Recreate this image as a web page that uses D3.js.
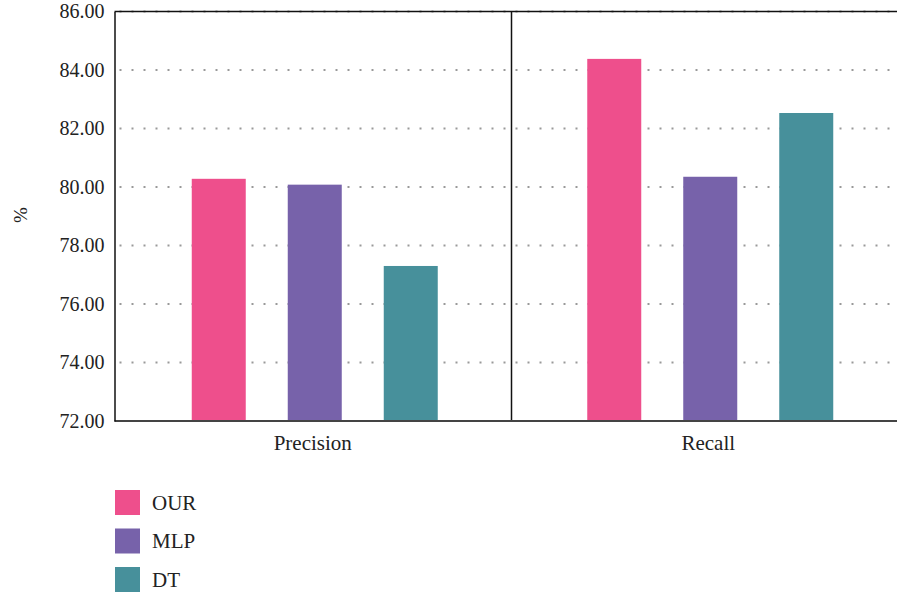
<!DOCTYPE html>
<html>
<head>
<meta charset="utf-8">
<script src="https://cdn.jsdelivr.net/npm/d3@7"></script>
<style>
  body { margin: 0; background: #fff; }
</style>
</head>
<body>
<div id="chart"></div>
<script>
const categories = ['Precision', 'Recall'];
const series = ['OUR', 'MLP', 'DT'];
const values = {
  OUR: [80.28, 84.38],
  MLP: [80.08, 80.35],
  DT:  [77.30, 82.53]
};
const yTicks = [72, 74, 76, 78, 80, 82, 84, 86];
const colors = ['#ee4f8c', '#7762aa', '#47909b'];

const FONT = '"Liberation Serif"';
const width = 897, height = 593;
const margin = {top: 11.5, left: 114.5};

const svg = d3.select('#chart')
  .append('svg')
    .attr('width', width)
    .attr('height', height);

// scales
const y = d3.scaleLinear()
  .domain([72, 86])
  .range([421, margin.top]);

const x0 = d3.scaleBand()
  .domain(categories)
  .range([117, 908]);

const x1 = d3.scaleBand()
  .domain(series)
  .range([-144, 144])
  .paddingInner(0.4375)
  .paddingOuter(0.21875);

const color = d3.scaleOrdinal().domain(series).range(colors);

// dotted grid
svg.append('g')
  .selectAll('line')
  .data(yTicks.filter(d => d > 72))
  .join('line')
    .attr('x1', margin.left + 1)
    .attr('x2', width)
    .attr('y1', d => y(d))
    .attr('y2', d => y(d))
    .attr('stroke', '#999')
    .attr('stroke-width', 2)
    .attr('stroke-dasharray', '2,10')
    .attr('stroke-dashoffset', -4);

// bars
const rows = categories.flatMap((c, i) => series.map(s => ({cat: c, key: s, value: values[s][i]})));
svg.append('g')
  .selectAll('rect')
  .data(rows)
  .join('rect')
    .attr('x', d => x0(d.cat) + x0.bandwidth() / 2 + x1(d.key))
    .attr('y', d => y(d.value))
    .attr('width', x1.bandwidth())
    .attr('height', d => y(72) - y(d.value))
    .attr('fill', d => color(d.key));

// frame: top line, divider, bottom axis
svg.append('line')
  .attr('x1', margin.left).attr('x2', width)
  .attr('y1', y(86)).attr('y2', y(86))
  .attr('stroke', '#111').attr('stroke-width', 1.5);

svg.append('line')
  .attr('x1', x0('Recall') - 1).attr('x2', x0('Recall') - 1)
  .attr('y1', y(86)).attr('y2', y(72))
  .attr('stroke', '#111').attr('stroke-width', 1.5);

const xAxis = svg.append('g')
  .attr('transform', `translate(0,${y(72)})`)
  .call(d3.axisBottom(x0).tickSize(0).tickPadding(14));
xAxis.select('.domain')
  .attr('d', `M${margin.left},0H${width}`)
  .attr('stroke', '#444').attr('stroke-width', 2);
xAxis.selectAll('text')
  .attr('font-size', 21)
  .attr('dx', -2)
  .style('font-family', FONT)
  .attr('fill', '#222');

const yAxis = svg.append('g')
  .attr('transform', `translate(${margin.left},0)`)
  .call(d3.axisLeft(y).tickValues(yTicks).tickFormat(d3.format('.2f')).tickSize(0).tickPadding(10));
yAxis.select('.domain').attr('stroke', '#111').attr('stroke-width', 1.5);
yAxis.selectAll('text')
  .attr('font-size', 20)
  .style('font-family', FONT)
  .attr('fill', '#222');

// y label
svg.append('text')
  .attr('transform', 'translate(27,215) rotate(-90)')
  .attr('text-anchor', 'middle')
  .attr('font-size', 19)
  .style('font-family', FONT)
  .attr('fill', '#222')
  .text('%');

// legend
const legend = svg.append('g')
  .selectAll('g')
  .data(series)
  .join('g')
    .attr('transform', (d, i) => `translate(115,${490 + i * 38.5})`);
legend.append('rect')
  .attr('width', 25)
  .attr('height', 25)
  .attr('fill', d => color(d));
legend.append('text')
  .attr('x', 37)
  .attr('y', 12.5)
  .attr('dy', '0.35em')
  .attr('font-size', 21)
  .style('font-family', FONT)
  .attr('fill', '#222')
  .text(d => d);
</script>
</body>
</html>
